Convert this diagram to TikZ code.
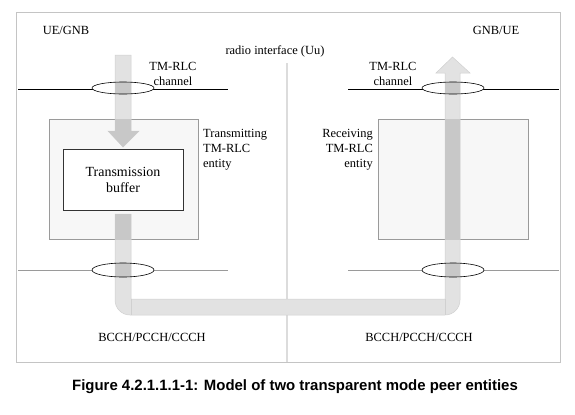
\documentclass[tikz,border=0pt]{standalone}
\usepackage{fontspec}
\setmainfont{Liberation Serif}
\newfontfamily\capfont{Liberation Sans}
\definecolor{framegray}{HTML}{C4C4C4}
\definecolor{midline}{HTML}{DCDCDC}
\definecolor{boxfill}{HTML}{F7F7F7}
\definecolor{boxline}{HTML}{9A9A9A}
\definecolor{pipelight}{HTML}{E2E2E2}
\definecolor{pipeedge}{HTML}{D0D0D0}
\definecolor{pipedark}{HTML}{C8C8C8}
\tikzset{
  lbl/.style={font=\fontsize{12.5}{15}\selectfont, inner sep=0pt, align=center},
  chan/.style={draw=black, line width=0.6pt, fill=white, ellipse},
  entity/.style={draw=boxline, fill=boxfill, line width=0.6pt},
  pipe/.style={fill=pipelight, draw=pipeedge, line width=0.5pt},
}
\begin{document}
\begin{tikzpicture}[x=1bp,y=-1bp]
\useasboundingbox (0,0) rectangle (575,414);
% frame
\draw[framegray, line width=0.8pt] (16,12) rectangle (560,362);
% centre line
\coordinate (mtop) at (287,63);
\coordinate (mbot) at (287,362);
\draw[midline, line width=1.2pt] (mtop) -- (mbot);
% channel lines
\coordinate (tl1) at (18,89); \coordinate (tl2) at (228,89);
\coordinate (tr1) at (348,89); \coordinate (tr2) at (559,89);
\coordinate (bl1) at (18,270); \coordinate (bl2) at (228,270);
\coordinate (br1) at (348,270); \coordinate (br2) at (559,270);
\draw[black, line width=0.6pt] (tl1) -- (tl2);
\draw[black, line width=0.6pt] (tr1) -- (tr2);
\draw[boxline, line width=0.6pt] (bl1) -- (bl2);
\draw[boxline, line width=0.6pt] (br1) -- (br2);
% ellipses (white interiors)
\fill[white] (123,88) ellipse [x radius=31, y radius=6];
\fill[white] (453,88) ellipse [x radius=31, y radius=6];
\fill[white] (123,270) ellipse [x radius=31, y radius=7];
\fill[white] (453,270) ellipse [x radius=31, y radius=7];
% entity boxes
\node[entity, minimum width=149bp, minimum height=120bp, inner sep=0pt, anchor=north west] (txent) at (49,119) {};
\node[entity, minimum width=150bp, minimum height=120bp, inner sep=0pt, anchor=north west] (rxent) at (378,119) {};
% down arrow
\def\downarrowpath{(115,55) -- (131,55) -- (131,131) -- (139,131) -- (123,147) -- (108,131) -- (115,131) -- cycle}
\path[pipe] \downarrowpath;
% pipe with up arrow
\def\pipepath{(115,214) -- (115,300) arc[start angle=180, end angle=90, radius=15] -- (445,315) arc[start angle=90, end angle=0, radius=15] -- (460,73) -- (470,73) -- (452.5,57) -- (436,73) -- (445,73) -- (445,299) -- (131,299) -- (131,214) -- cycle}
\path[pipe] \pipepath;
\draw[pipeedge, line width=0.5pt] (131,299) -- (131,315);
\draw[pipeedge, line width=0.5pt] (445,299) -- (445,315);
% dark overlaps
\begin{scope}
  \clip (49,119) rectangle (198,239);
  \fill[pipedark] \downarrowpath;
  \fill[pipedark] \pipepath;
\end{scope}
\begin{scope}
  \clip (378,119) rectangle (528,239);
  \fill[pipedark] \pipepath;
\end{scope}
\begin{scope}
  \clip (123,88) ellipse [x radius=31, y radius=6];
  \fill[pipedark] \downarrowpath;
\end{scope}
\begin{scope}
  \clip (453,88) ellipse [x radius=31, y radius=6];
  \fill[pipedark] \pipepath;
\end{scope}
\begin{scope}
  \clip (123,270) ellipse [x radius=31, y radius=7];
  \fill[pipedark] \pipepath;
\end{scope}
\begin{scope}
  \clip (453,270) ellipse [x radius=31, y radius=7];
  \fill[pipedark] \pipepath;
\end{scope}
% ellipse outlines
\draw[black, line width=0.6pt] (123,88) ellipse [x radius=31, y radius=6];
\draw[black, line width=0.6pt] (453,88) ellipse [x radius=31, y radius=6];
\draw[black, line width=0.6pt] (123,270) ellipse [x radius=31, y radius=7];
\draw[black, line width=0.6pt] (453,270) ellipse [x radius=31, y radius=7];
% transmission buffer
\node[draw=black!80, fill=white, line width=0.7pt, minimum width=120bp, minimum height=61bp, inner sep=0pt, anchor=north west] (buf) at (63,149) {};
\node[lbl, font=\fontsize{14}{16}\selectfont] (buftxt) at (123,180) {Transmission\\buffer};
% labels
\node[lbl] (ue) at (66,30) {UE/GNB};
\node[lbl] (gnb) at (496,30) {GNB/UE};
\node[lbl] (radio) at (275,51) {radio interface (Uu)};
\node[lbl] (chl) at (173,74) {TM-RLC\\channel};
\node[lbl] (chr) at (393,74) {TM-RLC\\channel};
\node[lbl, align=left, anchor=west] (txl) at (203,150) {Transmitting\\TM-RLC\\entity};
\node[lbl, align=right, anchor=east] (rxl) at (373,150) {Receiving\\TM-RLC\\entity};
\node[lbl] (bl) at (152,337) {BCCH/PCCH/CCCH};
\node[lbl] (br) at (419,337) {BCCH/PCCH/CCCH};
% caption
\node[inner sep=0pt, font=\capfont\bfseries\fontsize{15}{17}\selectfont] (cap) at (295,387) {Figure 4.2.1.1.1-1: Model of two transparent mode peer entities};
\end{tikzpicture}
\end{document}
